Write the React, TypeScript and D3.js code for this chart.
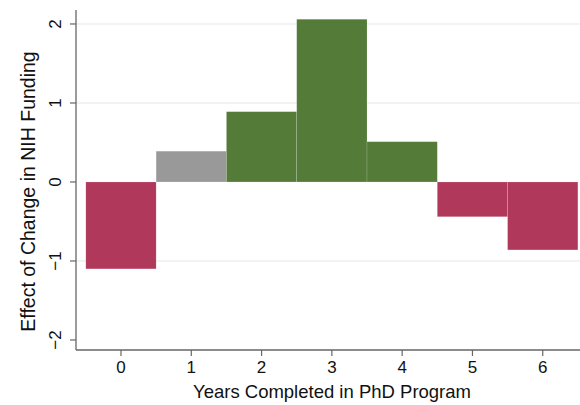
import React from "react";
import * as d3 from "d3";

const years = [0, 1, 2, 3, 4, 5, 6];
const effects = [-1.1, 0.39, 0.89, 2.06, 0.51, -0.44, -0.86];
const barGroups = ["neg", "neutral", "pos", "pos", "pos", "neg", "neg"];
const yTicks = [-2, -1, 0, 1, 2];
const gridTicks = [-1, 1, 2];

const colors: Record<string, string> = {
  neg: "#b0395b",
  neutral: "#999999",
  pos: "#547b38",
};

export default function App() {
  const W = 580;
  const H = 405;
  const x = d3.scaleLinear().domain([-0.64, 6.53]).range([76, 580]);
  const y = d3.scaleLinear().domain([-2.127, 2.177]).range([350, 10]);
  const font = "'Liberation Sans', Arial, Helvetica, sans-serif";
  return (
    <svg
      width={W}
      height={H}
      style={{ position: "absolute", left: 0, top: 0, background: "#fff" }}
      fontFamily={font}
    >
      {gridTicks.map((t) => (
        <line key={"g" + t} x1={76} x2={580} y1={y(t)} y2={y(t)} stroke="#eef0f0" strokeWidth={1.5} />
      ))}
      {years.map((yr, i) => {
        const v = effects[i];
        const x0 = x(yr - 0.5);
        const x1 = x(yr + 0.5);
        const yTop = y(Math.max(0, v));
        const yBot = y(Math.min(0, v));
        return (
          <rect
            key={yr}
            x={x0}
            y={yTop}
            width={x1 - x0}
            height={yBot - yTop}
            fill={colors[barGroups[i]]}
            stroke="#ffffff"
            strokeOpacity={0.25}
            strokeWidth={0.6}
          />
        );
      })}
      <line x1={76} x2={76} y1={10} y2={350} stroke="#666" strokeWidth={1.3} />
      <line x1={76} x2={580} y1={350} y2={350} stroke="#666" strokeWidth={1.3} />
      {yTicks.map((t) => (
        <g key={"y" + t}>
          <line x1={70} x2={76} y1={y(t)} y2={y(t)} stroke="#666" strokeWidth={1.2} />
          <text
            transform={`translate(61,${y(t)}) rotate(-90)`}
            textAnchor="middle"
            fontSize={17}
            fill="#111"
          >
            {t < 0 ? "\u2212" + Math.abs(t) : String(t)}
          </text>
        </g>
      ))}
      {years.map((yr) => (
        <g key={"x" + yr}>
          <line x1={x(yr)} x2={x(yr)} y1={350} y2={356} stroke="#666" strokeWidth={1.2} />
          <text x={x(yr)} y={372.5} textAnchor="middle" fontSize={17} fill="#111">
            {yr}
          </text>
        </g>
      ))}
      <text
        transform={`translate(35,191.5) rotate(-90)`}
        textAnchor="middle"
        fontSize={19.5}
        fill="#111"
      >
        Effect of Change in NIH Funding
      </text>
      <text x={332} y={398} textAnchor="middle" fontSize={18.5} fill="#111">
        Years Completed in PhD Program
      </text>
    </svg>
  );
}
